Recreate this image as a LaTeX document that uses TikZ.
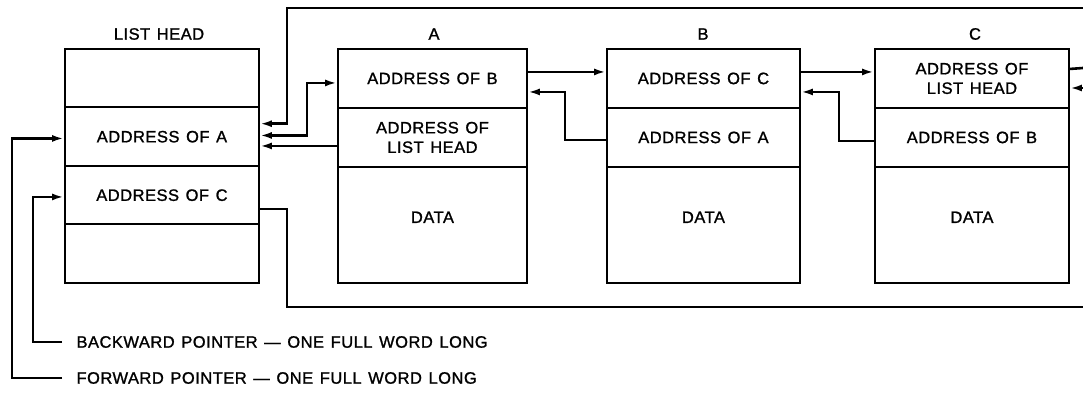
\documentclass[tikz,border=0pt]{standalone}
\usepackage{fontspec}
\setmainfont{Liberation Sans}[FakeBold=1.2,LetterSpace=3,WordSpace=1.3]
\usetikzlibrary{arrows.meta}
\begin{document}
\begin{tikzpicture}[x=1pt,y=-1pt,
  every node/.style={font=\fontsize{16.5}{19.5}\selectfont},
  cell/.style={draw,line width=1.9pt,inner sep=0pt,anchor=north west,align=center},
  datacell/.style={cell,text height=12pt,text depth=16pt},
  wire/.style={line width=2.6pt,line join=miter},
  ptr/.style={wire,-{Latex[length=12pt,width=7pt]}},
  bptr/.style={wire,{Latex[length=12pt,width=7pt]}-{Latex[length=12pt,width=7pt]}},
  title/.style={anchor=center}]
\useasboundingbox (0,0) rectangle (1083,395);

% list head
\node[cell,minimum width=194pt,minimum height=58.5pt] (lh1) at (64,48) {};
\node[cell,minimum width=194pt,minimum height=58.5pt] (lh2) at (64,106.5) {ADDRESS OF A};
\node[cell,minimum width=194pt,minimum height=58.5pt] (lh3) at (64,165) {ADDRESS OF C};
\node[cell,minimum width=194pt,minimum height=58.5pt] (lh4) at (64,223.5) {};
\node[title] (tlh) at (159,34) {LIST HEAD};

% element A
\node[cell,minimum width=189pt,minimum height=59pt] (a1) at (337,48) {ADDRESS OF B};
\node[cell,minimum width=189pt,minimum height=59pt] (a2) at (337,107) {ADDRESS OF\\LIST HEAD};
\node[datacell,minimum width=189pt,minimum height=116pt] (a3) at (337,166) {DATA};
\node[title] (ta) at (434,34) {A};

% element B
\node[cell,minimum width=193pt,minimum height=59pt] (b1) at (606,48) {ADDRESS OF C};
\node[cell,minimum width=193pt,minimum height=59pt] (b2) at (606,107) {ADDRESS OF A};
\node[datacell,minimum width=193pt,minimum height=116pt] (b3) at (606,166) {DATA};
\node[title] (tb) at (703,34) {B};

% element C
\node[cell,minimum width=194pt,minimum height=59pt] (c1) at (874,48) {ADDRESS OF\\LIST HEAD};
\node[cell,minimum width=194pt,minimum height=59pt] (c2) at (874,107) {ADDRESS OF B};
\node[datacell,minimum width=194pt,minimum height=116pt] (c3) at (874,166) {DATA};
\node[title] (tc) at (975,34) {C};

% free ends running off to the right and the legend corners
\coordinate (rtop) at (1083,8);
\coordinate (rfwd) at (1083,68);
\coordinate (rbck) at (1083,88);
\coordinate (rbot) at (1083,307);
\coordinate (lgb) at (62,342);
\coordinate (lgf) at (62,378);

% forward chain
\draw[bptr] ([yshift=1.25pt]lh2.east) -| ([xshift=-30pt,yshift=-4.5pt]a1.west) -- ([yshift=-4.5pt]a1.west);
\draw[ptr] ([yshift=6.5pt]a1.east) -- ([yshift=6.5pt]a1.east -| b1.west);
\draw[ptr] ([yshift=6.5pt]b1.east) -- ([yshift=6.5pt]b1.east -| c1.west);
\draw[wire] ([yshift=9.5pt]c1.east) -- (rfwd);
\draw[ptr] (rtop) -| ([xshift=27pt,yshift=13pt]lh2.east) -- ([yshift=13pt]lh2.east);

% backward chain
\draw[ptr] ([yshift=-8.5pt]a2.west) -- ([yshift=-8.5pt]a2.west -| lh2.east);
\draw[ptr] ([yshift=-2.5pt]b2.west) -| ([xshift=37pt,yshift=-13.5pt]a1.east) -- ([yshift=-13.5pt]a1.east);
\draw[ptr] ([yshift=-3.5pt]c2.west) -| ([xshift=38pt,yshift=-13.5pt]b1.east) -- ([yshift=-13.5pt]b1.east);
\draw[ptr] (rbck) -- (rbck -| c1.east);
\draw[wire] ([yshift=-13.75pt]lh3.east) -| ([xshift=27pt]lh3.east |- rbot) -- (rbot);

% legend
\draw[ptr] (lgf) -| ([xshift=-52pt,yshift=-1.75pt]lh2.west) -- ([yshift=-1.75pt]lh2.west);
\draw[ptr] (lgb) -| ([xshift=-31pt,yshift=-1.75pt]lh3.west) -- ([yshift=-1.75pt]lh3.west);
\node[anchor=west] (tbk) at (73,342) {BACKWARD POINTER — ONE FULL WORD LONG};
\node[anchor=west] (tfw) at (73,378) {FORWARD POINTER — ONE FULL WORD LONG};
\end{tikzpicture}
\end{document}
